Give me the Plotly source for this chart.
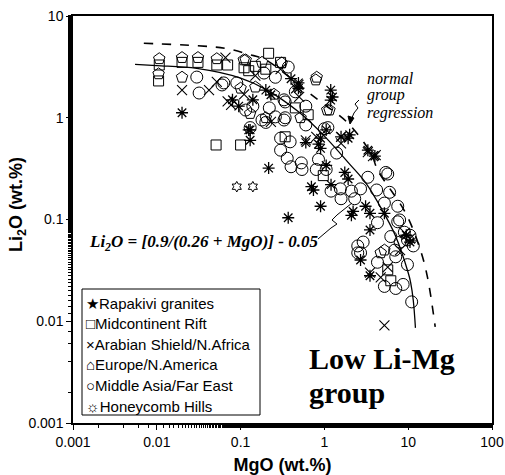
import plotly.graph_objects as go

# ---------------- data ----------------
rapakivi_mgo = [0.020, 0.13, 0.37, 0.2, 0.14, 0.13, 0.23, 1.19, 1.25, 0.49, 0.6, 0.9, 0.9, 1.92, 3.3,
                0.216, 0.7, 1.05, 0.85, 1.58, 2.0, 4.0, 0.74, 1.2, 0.9, 2.2, 3.1, 1.75, 1.05, 2.1,
                3.5, 3.5, 2.7, 3.5, 5.2, 1.19, 0.4, 0.49, 1.92, 0.125, 0.08, 0.095, 10.5, 9.5]
rapakivi_li = [1.12, 0.6, 0.104, 1.87, 1.5, 0.76, 1.68, 1.87, 1.6, 1.95, 0.57, 0.63, 0.5, 0.63, 0.48,
               0.32, 0.21, 0.76, 0.55, 0.65, 0.68, 0.42, 0.195, 0.22, 0.135, 0.12, 0.135, 0.29, 0.34, 0.11,
               0.115, 0.079, 0.04, 0.028, 0.115, 1.49, 2.42, 2.2, 0.25, 0.76, 1.5, 1.3, 0.06, 0.07]

midcont_mgo = [0.0107, 0.0105, 0.020, 0.031, 0.052, 0.051, 0.1, 0.216, 0.3, 0.64, 0.34, 0.97,
               5.7, 6.2, 0.15, 0.2, 0.11, 0.45, 0.125, 0.07]
midcont_li = [3.3, 2.3, 3.5, 3.5, 3.3, 0.54, 0.54, 4.3, 3.5, 1.07, 0.65, 0.27,
              0.032, 0.025, 3.2, 3.0, 3.1, 1.25, 2.9, 3.3]

arabian_mgo = [0.020, 0.066, 0.052, 0.042, 0.077, 0.46, 0.23, 0.6, 0.49, 1.58, 1.58, 3.8, 0.8,
               5.2, 5.7, 4.7, 9.1, 3.5, 3.3, 4.1, 0.3, 0.15, 0.11, 0.07, 0.5, 10.5, 8.0]
arabian_li = [1.87, 3.9, 2.25, 1.87, 1.34, 1.95, 0.91, 0.6, 2.1, 0.65, 0.56, 0.42, 0.65,
              0.0091, 0.034, 0.027, 0.074, 0.03, 0.46, 0.43, 3.0, 2.6, 1.7, 1.45, 1.6, 0.065, 0.05]

europe_mgo = [0.0107, 0.0105, 0.020, 0.031, 0.052, 0.020, 0.109, 0.1, 0.115, 0.31, 0.52, 0.79,
              1.08, 0.2, 5.2, 0.81, 1.15, 0.25, 0.15, 0.18, 4.7, 0.13]
europe_li = [3.8, 2.7, 3.9, 3.9, 3.8, 2.5, 3.7, 1.95, 3.7, 3.45, 1.0, 2.35,
             1.19, 1.0, 0.05, 2.5, 1.19, 1.7, 2.0, 3.5, 0.047, 1.1]

asia_mgo = [0.030, 0.032, 0.06, 0.19, 0.26, 0.09, 0.063, 0.33, 0.18, 0.33, 0.115, 0.34, 0.26, 0.34,
            0.3, 0.3, 0.36, 0.4, 0.54, 0.85, 1.05, 0.37, 0.2, 0.13, 0.39, 0.53, 0.8, 1.2, 1.55,
            1.58, 2.1, 2.7, 3.3, 5.4, 2.3, 4.2, 1.1, 1.0, 5.2, 7.5, 4.3, 6.2, 2.9, 2.5, 4.3,
            6.9, 9.8, 5.2, 7.1, 8.7, 11.0, 9.8, 7.9, 7.1, 5.7, 6.0, 7.5, 2.5, 0.45, 0.6, 9.0,
            10.5, 11.5, 8.0, 2.7, 0.14, 0.22, 0.6, 1.4]
asia_li = [2.51, 1.75, 2.1, 2.75, 2.5, 2.2, 2.2, 1.5, 0.95, 0.95, 1.19, 1.43, 1.02, 1.0,
           0.63, 0.48, 0.4, 0.33, 0.31, 0.39, 0.31, 3.15, 0.9, 0.8, 0.58, 0.36, 0.31, 0.19, 0.2,
           0.16, 0.19, 0.2, 0.26, 0.29, 0.16, 0.195, 0.8, 0.78, 0.145, 0.135, 0.093, 0.068, 0.06, 0.047, 0.038,
           0.05, 0.036, 0.022, 0.021, 0.023, 0.0155, 0.063, 0.099, 0.043, 0.28, 0.185, 0.095, 0.055, 1.8, 1.3, 0.075,
           0.07, 0.055, 0.06, 0.047, 1.3, 1.25, 0.85, 0.45]

honey_mgo = [0.09, 0.14]
honey_li = [0.21, 0.21]

# regression curves
fit_mgo = [0.0055, 0.01, 0.03, 0.1, 0.2, 0.5, 1.0, 2.0, 3.1, 5.0, 7.0, 10.0, 10.7, 11.5, 12.2]
fit_li = [3.35, 3.25, 3.05, 2.45, 1.9, 1.13, 0.66, 0.35, 0.23, 0.12, 0.07, 0.03, 0.024, 0.016, 0.0086]

normal_mgo = [0.007, 0.03, 0.067, 0.125, 0.2, 0.6, 1.0, 1.9, 3.58, 4.33, 9.3, 14.0, 17.0, 21.0]
normal_li = [5.4, 5.1, 4.8, 4.2, 3.7, 1.85, 1.35, 0.89, 0.45, 0.306, 0.116, 0.05, 0.027, 0.0088]

x_tickvals = [0.001, 0.01, 0.1, 1, 10, 100]
x_ticktext = ["0.001", "0.01", "0.1", "1", "10", "100"]
y_tickvals = [0.001, 0.01, 0.1, 1, 10]
y_ticktext = ["0.001", "0.01", "0.1", "1", "10"]

legend_names = ["Rapakivi granites", "Midcontinent Rift", "Arabian Shield/N.Africa",
                "Europe/N.America", "Middle Asia/Far East", "Honeycomb Hills"]
legend_glyphs = ["\u2605", "\u25a1", "\u00d7", "\u2302", "\u25cb", "\u263c"]

# ---------------- figure ----------------
L, R, T, B, W, H = 73, 13, 16, 52, 505, 475
PW, PH = W - L - R, H - T - B


def px(x):
    return (x - L) / PW


def py(y):
    return (H - B - y) / PH


fig = go.Figure()

fig.add_trace(go.Scatter(x=normal_mgo, y=normal_li, mode="lines", showlegend=False,
                         line=dict(color="black", width=1.6, dash="dash", shape="spline")))
fig.add_trace(go.Scatter(x=fit_mgo, y=fit_li, mode="lines", showlegend=False,
                         line=dict(color="black", width=1.3, shape="spline")))

series = [
    (legend_names[0], rapakivi_mgo, rapakivi_li, "asterisk-open", 10, 1.3),
    (legend_names[1], midcont_mgo, midcont_li, "square-open", 10, 1.0),
    (legend_names[2], arabian_mgo, arabian_li, "x-thin-open", 10, 1.1),
    (legend_names[3], europe_mgo, europe_li, "pentagon-open", 12, 1.0),
    (legend_names[4], asia_mgo, asia_li, "circle-open", 12, 1.0),
    (legend_names[5], honey_mgo, honey_li, "hexagram-open", 8, 1.0),
]
for name, xs, ys, sym, sz, lw in series:
    fig.add_trace(go.Scatter(
        x=xs, y=ys, mode="markers", name=name, showlegend=False,
        marker=dict(symbol=sym, size=sz, color="black", line=dict(color="black", width=lw)),
    ))

sans = "Liberation Sans, Arial, sans-serif"
serif = "Liberation Serif, Times New Roman, serif"

axis_common = dict(type="log", showline=True, linecolor="black", linewidth=1.5, mirror=True,
                   showgrid=False, zeroline=False, ticks="outside", ticklen=5, tickwidth=1,
                   tickcolor="black", automargin=False,
                   tickfont=dict(family=sans, size=14, color="black"),
                   minor=dict(ticks="outside", ticklen=3, tickcolor="black", showgrid=False))

fig.update_xaxes(**axis_common, range=[-3, 2], tickvals=x_tickvals, ticktext=x_ticktext,
                 title=dict(text="<b>MgO (wt.%)</b>", standoff=11,
                            font=dict(family=sans, size=18, color="black")))
fig.update_yaxes(**axis_common, range=[-3, 1], tickvals=y_tickvals, ticktext=y_ticktext)

ann = []
# y axis title
ann.append(dict(text="<b>Li<sub>2</sub>O (wt.%)</b>", xref="paper", yref="paper",
                x=px(17), y=py(205), xanchor="center", yanchor="middle", textangle=-90,
                showarrow=False, font=dict(family=sans, size=18, color="black")))
for txt, ypx in [("normal", 78), ("group", 95), ("regression", 113)]:
    ann.append(dict(text="<i>" + txt + "</i>", xref="paper", yref="paper",
                    x=px(365), y=py(ypx), xanchor="left", yanchor="middle",
                    showarrow=False, font=dict(family=serif, size=16, color="black")))
# formula
ann.append(dict(text="<b><i>Li<sub>2</sub>O = [0.9/(0.26 + MgO)] - 0.05</i></b>",
                xref="paper", yref="paper", x=px(203), y=py(243),
                xanchor="center", yanchor="middle", showarrow=False,
                font=dict(family=serif, size=17, color="black")))
# group label
for txt, ypx in [("Low Li-Mg", 358), ("group", 392)]:
    ann.append(dict(text="<b>" + txt + "</b>", xref="paper", yref="paper",
                    x=px(307), y=py(ypx), xanchor="left", yanchor="middle",
                    showarrow=False, font=dict(family=serif, size=30, color="black")))
# legend rows
for i, (g, n) in enumerate(zip(legend_glyphs, legend_names)):
    ann.append(dict(text=g + n, xref="paper", yref="paper", x=px(84), y=py(303 + i * 20.6),
                    xanchor="left", yanchor="middle", showarrow=False,
                    font=dict(family=sans, size=15, color="black")))


def path(points, close=False):
    s = "M " + " L ".join(f"{px(a):.5f},{py(b):.5f}" for a, b in points)
    return s + (" Z" if close else "")


shapes = [
    # legend box
    dict(type="rect", xref="paper", yref="paper", x0=px(82), x1=px(260), y0=py(415), y1=py(289),
         line=dict(color="black", width=1), fillcolor="white", layer="below"),
    # squiggle pointer from "regression" to dashed curve
    dict(type="path", xref="paper", yref="paper",
         path=path([(359, 100), (355, 104), (358, 108), (354, 113), (351, 120)]),
         line=dict(color="black", width=1)),
    dict(type="path", xref="paper", yref="paper",
         path=path([(350, 124), (348, 116), (354, 118)], close=True),
         line=dict(color="black", width=1), fillcolor="black"),
    # leader from formula to curve
    dict(type="path", xref="paper", yref="paper",
         path=path([(318, 239), (331, 228), (337, 224), (332, 220), (337, 215), (352, 203)]),
         line=dict(color="black", width=1)),
]

fig.update_layout(
    width=W, height=H, autosize=False,
    margin=dict(l=L, r=R, t=T, b=B),
    paper_bgcolor="white", plot_bgcolor="white",
    annotations=ann, shapes=shapes, showlegend=False,
    font=dict(family=sans, color="black"),
)

fig.write_html("out.html")
